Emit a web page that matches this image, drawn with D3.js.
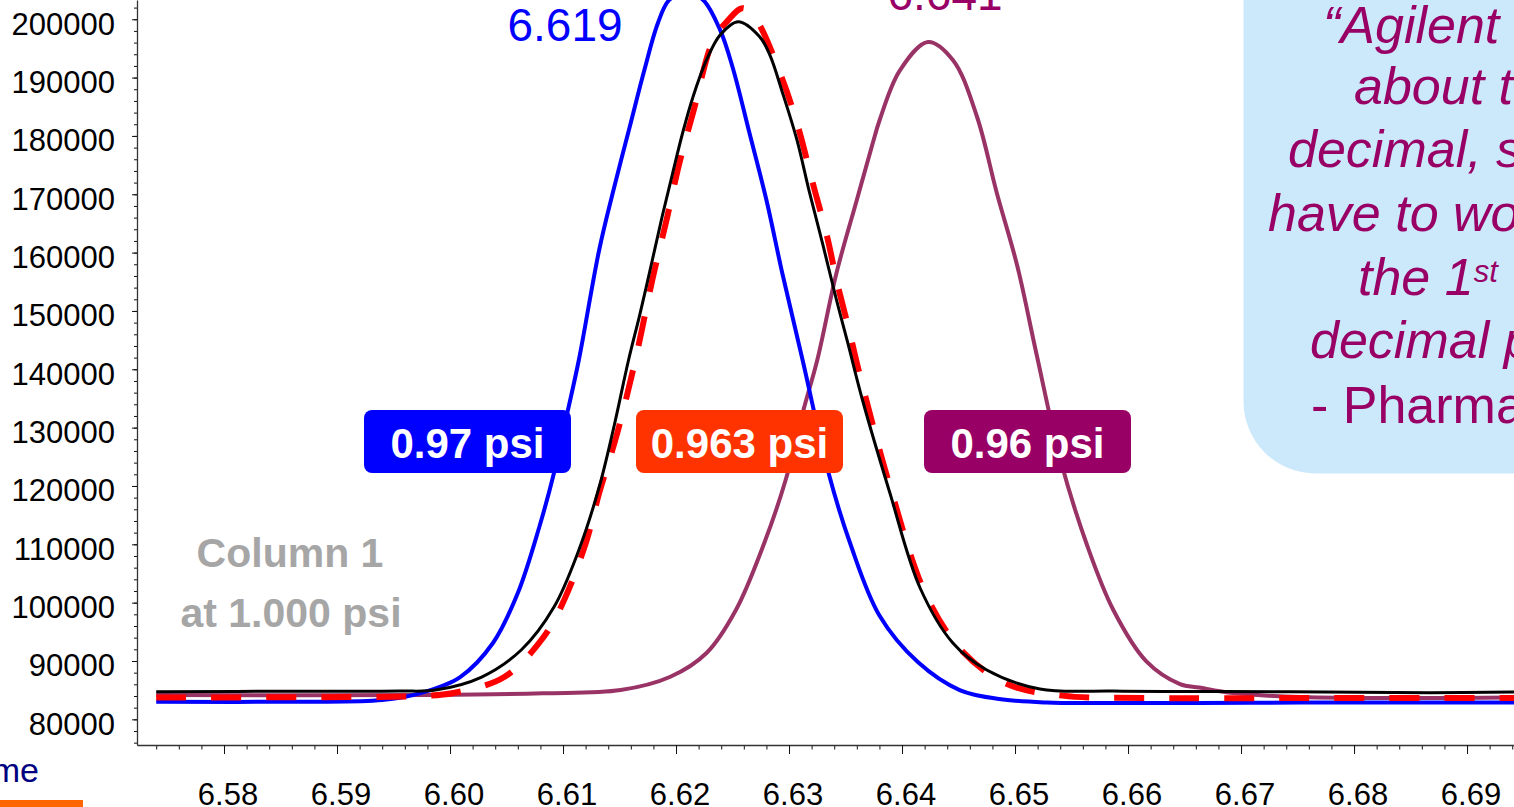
<!DOCTYPE html>
<html>
<head>
<meta charset="utf-8">
<script src="https://cdn.jsdelivr.net/npm/d3@7"></script>
<style>
  body { margin: 0; background: #fff; overflow: hidden; }
  svg { display: block; font-family: Arial, "Liberation Sans", sans-serif; }
</style>
</head>
<body>
<script>

// axis ticks
var xTicks = [6.58, 6.59, 6.60, 6.61, 6.62, 6.63, 6.64, 6.65, 6.66, 6.67, 6.68, 6.69];
var yTicks = [80000, 90000, 100000, 110000, 120000, 130000, 140000, 150000, 160000, 170000, 180000, 190000, 200000];

// blue trace (0.97 psi)
var blueTime = [6.5740, 6.5867, 6.5940, 6.5974, 6.6009, 6.6038, 6.6060, 6.6079, 6.6092, 6.6104, 6.6114, 6.6132, 6.6144, 6.6159, 6.6172, 6.6184, 6.6194, 6.6209, 6.6224, 6.6239, 6.6250, 6.6265, 6.6280, 6.6294, 6.6312, 6.6335, 6.6354, 6.6380, 6.6414, 6.6451, 6.6486, 6.6528, 6.6575, 6.6663, 6.6752, 6.6840, 6.6946];
var blueSignal = [83020, 83020, 83300, 84500, 87250, 93080, 101650, 112970, 122220, 132700, 141590, 160450, 170220, 181540, 191310, 199370, 203310, 204680, 203310, 198170, 191820, 180510, 169020, 156510, 141590, 122220, 110220, 97800, 89820, 85020, 83480, 82880, 82790, 82790, 82880, 82880, 82880];

// red dashed trace (0.963 psi)
var redTime = [6.5740, 6.5911, 6.5973, 6.6003, 6.6048, 6.6083, 6.6101, 6.6121, 6.6132, 6.6148, 6.6164, 6.6179, 6.6192, 6.6203, 6.6215, 6.6233, 6.6245, 6.6259, 6.6271, 6.6292, 6.6307, 6.6321, 6.6334, 6.6342, 6.6354, 6.6362, 6.6389, 6.6422, 6.6454, 6.6493, 6.6542, 6.6619, 6.6752, 6.6946];
var redSignal = [83740, 83820, 83990, 84510, 87250, 94160, 100450, 110740, 118790, 129080, 141590, 155310, 165940, 175370, 183940, 196450, 199600, 201890, 199880, 190790, 182220, 171940, 162510, 155310, 146050, 139540, 120170, 100970, 91540, 86050, 84060, 83650, 83650, 83650];

// black trace (column 1 at 1.000 psi)
var blackTime = [6.5740, 6.5867, 6.5955, 6.5987, 6.6028, 6.6063, 6.6092, 6.6114, 6.6132, 6.6145, 6.6158, 6.6168, 6.6179, 6.6188, 6.6197, 6.6206, 6.6215, 6.6227, 6.6239, 6.6255, 6.6274, 6.6283, 6.6294, 6.6307, 6.6318, 6.6330, 6.6342, 6.6352, 6.6365, 6.6389, 6.6416, 6.6445, 6.6475, 6.6522, 6.6586, 6.6663, 6.6743, 6.6867, 6.6946];
var blackSignal = [84730, 84820, 84850, 85020, 87250, 91880, 99250, 109020, 119820, 130110, 141590, 149420, 158690, 166400, 173600, 180630, 186680, 193020, 197310, 199590, 197020, 193880, 187540, 179310, 170400, 161310, 151880, 144510, 134740, 118970, 102510, 93080, 88450, 85190, 84850, 84770, 84730, 84560, 84680];

// purple trace (0.96 psi)
var purpleTime = [6.5740, 6.5987, 6.6082, 6.6151, 6.6195, 6.6227, 6.6253, 6.6278, 6.6297, 6.6313, 6.6325, 6.6342, 6.6360, 6.6374, 6.6380, 6.6398, 6.6423, 6.6445, 6.6466, 6.6484, 6.6502, 6.6519, 6.6540, 6.6564, 6.6587, 6.6616, 6.6646, 6.6663, 6.6693, 6.6752, 6.6946];
var purpleSignal = [84170, 84170, 84460, 85020, 87300, 91370, 98740, 110170, 121020, 133190, 141590, 156510, 169020, 178700, 182600, 191200, 196110, 193020, 183500, 170140, 157710, 142620, 124620, 109710, 98740, 89990, 86050, 85450, 84510, 83820, 83740];

var pressureLabels = ["0.97 psi", "0.963 psi", "0.96 psi"];
var peakLabels = ["6.619", "6.641"];
var columnLabel = ["Column 1", "at 1.000 psi"];
var quoteLines = ["\u201CAgilent", "about t", "decimal, s", "have to wo", "the 1", "decimal p", "- Pharma"];

function main() {
    var W = 1514, H = 807;

    var svg = d3.select("body")
      .append("svg")
      .attr("width", W)
      .attr("height", H);

    var x = d3.scaleLinear().domain([6.5723, 6.6942]).range([137, 1514.5]);
    var y = d3.scaleLinear().domain([75600, 203300]).range([745, 0]);

    // callout box (behind everything else)
    svg.append("rect")
      .attr("x", 1243.5).attr("y", -120)
      .attr("width", 420).attr("height", 593.5)
      .attr("rx", 72)
      .attr("fill", "#cce9fb");

    var qx = [1323, 1354, 1288, 1268, 1358, 1310, 1311];
    var qy = [43, 104, 167, 231, 295, 358, 423];
    quoteLines.forEach(function (s, i) {
        var t = svg.append("text")
          .attr("x", qx[i]).attr("y", qy[i])
          .attr("font-size", 52)
          .attr("font-style", i == 6 ? "normal" : "italic")
          .attr("fill", "#990066")
          .text(s);
        if (i == 4) {
            t.append("tspan").attr("dy", -13).attr("font-size", 31).text("st");
        }
    });

    // minor ticks
    var minorX = d3.range(6.574, 6.695, 0.002);
    var minorY = d3.range(76000, 203000, 2000);

    svg.append("g")
      .attr("transform", "translate(0,745)")
      .call(d3.axisBottom(x).tickValues(minorX).tickSize(4.5).tickFormat(""))
      .call(function (g) { g.select(".domain").remove(); });

    svg.append("g")
      .attr("transform", "translate(137,0)")
      .call(d3.axisLeft(y).tickValues(minorY).tickSize(3).tickFormat(""))
      .call(function (g) { g.select(".domain").remove(); });

    // main axes
    var xAxis = svg.append("g")
      .attr("transform", "translate(0,745)")
      .call(d3.axisBottom(x).tickValues(xTicks).tickSize(9).tickSizeOuter(0)
            .tickPadding(29).tickFormat(d3.format(".2f")));
    xAxis.selectAll("text").attr("dx", 3.5);

    var yAxis = svg.append("g")
      .attr("transform", "translate(137,0)")
      .call(d3.axisLeft(y).tickValues(yTicks).tickSize(5).tickSizeOuter(0)
            .tickPadding(17).tickFormat(d3.format("d")));
    yAxis.selectAll("text").attr("dy", "0.48em");

    svg.selectAll(".tick line").attr("stroke", "#111");
    svg.selectAll(".domain").attr("stroke", "#333").attr("stroke-width", 1.3);
    svg.selectAll(".tick text")
      .attr("font-size", 31)
      .attr("font-family", "Arial, 'Liberation Sans', sans-serif")
      .attr("fill", "#000");

    // traces
    var line = d3.line()
      .x(function (d) { return x(d[0]); })
      .y(function (d) { return y(d[1]); })
      .curve(d3.curveCatmullRom.alpha(0.5));

    var traces = [
        { t: purpleTime, v: purpleSignal, color: "#993366", w: 4, dash: null },
        { t: blueTime, v: blueSignal, color: "#0000ff", w: 4, dash: null },
        { t: redTime, v: redSignal, color: "#ff0000", w: 6, dash: "30 25" },
        { t: blackTime, v: blackSignal, color: "#000000", w: 3, dash: null }
    ];

    svg.selectAll("path.trace")
      .data(traces)
      .enter()
      .append("path")
      .attr("class", "trace")
      .attr("d", function (d) { return line(d3.zip(d.t, d.v)); })
      .attr("fill", "none")
      .attr("stroke", function (d) { return d.color; })
      .attr("stroke-width", function (d) { return d.w; })
      .attr("stroke-dasharray", function (d) { return d.dash; })
      .attr("stroke-linejoin", "round");

    // retention time labels
    svg.append("text")
      .attr("x", 565).attr("y", 41)
      .attr("text-anchor", "middle")
      .attr("font-size", 46)
      .attr("fill", "#0000ff")
      .text(peakLabels[0]);

    svg.append("text")
      .attr("x", 945).attr("y", 9.5)
      .attr("text-anchor", "middle")
      .attr("font-size", 46)
      .attr("fill", "#990066")
      .text(peakLabels[1]);

    // pressure boxes
    var boxX = [364, 636, 924];
    var boxColors = ["#0000ff", "#ff3300", "#990066"];
    pressureLabels.forEach(function (s, i) {
        svg.append("rect")
          .attr("x", boxX[i]).attr("y", 410)
          .attr("width", 207).attr("height", 63)
          .attr("rx", 8)
          .attr("fill", boxColors[i]);
        svg.append("text")
          .attr("x", boxX[i] + 103.5).attr("y", 458)
          .attr("text-anchor", "middle")
          .attr("font-size", 42)
          .attr("font-weight", "bold")
          .attr("fill", "#fff")
          .text(s);
    });

    // column label
    svg.append("text")
      .attr("x", 290).attr("y", 567)
      .attr("text-anchor", "middle")
      .attr("font-size", 41).attr("font-weight", "bold")
      .attr("fill", "#a6a6a6")
      .text(columnLabel[0]);
    svg.append("text")
      .attr("x", 291).attr("y", 627)
      .attr("text-anchor", "middle")
      .attr("font-size", 41).attr("font-weight", "bold")
      .attr("fill", "#a6a6a6")
      .text(columnLabel[1]);

    // bits of slide at bottom left
    svg.append("text")
      .attr("x", 39).attr("y", 782)
      .attr("text-anchor", "end")
      .attr("font-size", 34)
      .attr("fill", "#000080")
      .text("me");
    svg.append("rect")
      .attr("x", 0).attr("y", 800)
      .attr("width", 83).attr("height", 10)
      .attr("fill", "#ff6600");
}

main();
</script>
</body>
</html>
